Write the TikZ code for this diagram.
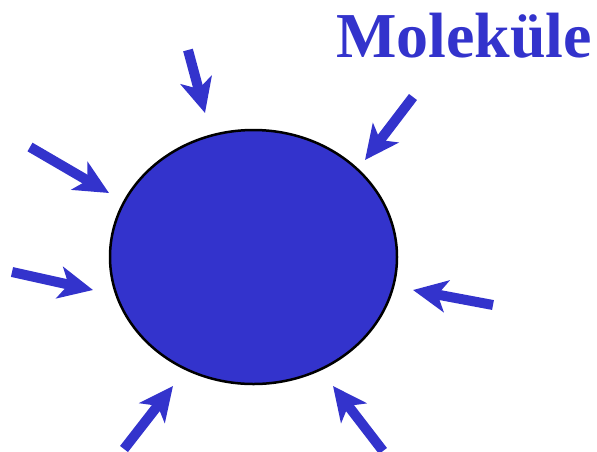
\documentclass[tikz,border=0pt]{standalone}
\usepackage{fontspec}
\setmainfont{Liberation Serif}
\usetikzlibrary{arrows.meta,shapes.geometric}
\definecolor{molblue}{HTML}{3333CC}
\tikzset{
  hit/.style={draw=molblue, line width=10pt, -{Stealth[length=34pt, width=32pt, inset=9pt]}},
  particle/.style={draw=black, fill=molblue, line width=2.5pt, ellipse, inner sep=0pt, minimum width=287pt, minimum height=254pt},
  title/.style={text=molblue, font=\bfseries\fontsize{64}{64}\selectfont, anchor=base west, inner sep=0pt}
}
\begin{document}
\begin{tikzpicture}[x=1pt,y=-1pt]
\useasboundingbox (0,0) rectangle (597,451);
\node[particle] (p) at (253.5,257) {};
\node[title] (t) at (336,57) {Moleküle};
\coordinate (a1) at (188,50);  \coordinate (b1) at (205,113);
\coordinate (a2) at (30,147);  \coordinate (b2) at (109,193);
\coordinate (a3) at (12,272);  \coordinate (b3) at (93,290);
\coordinate (a4) at (124,449); \coordinate (b4) at (173,386);
\coordinate (a5) at (383,451); \coordinate (b5) at (333,386);
\coordinate (a6) at (493,305); \coordinate (b6) at (413,290);
\coordinate (a7) at (413,97);  \coordinate (b7) at (365,160);
\foreach \i in {1,...,7} { \draw[hit] (a\i) -- (b\i); }
\end{tikzpicture}
\end{document}
